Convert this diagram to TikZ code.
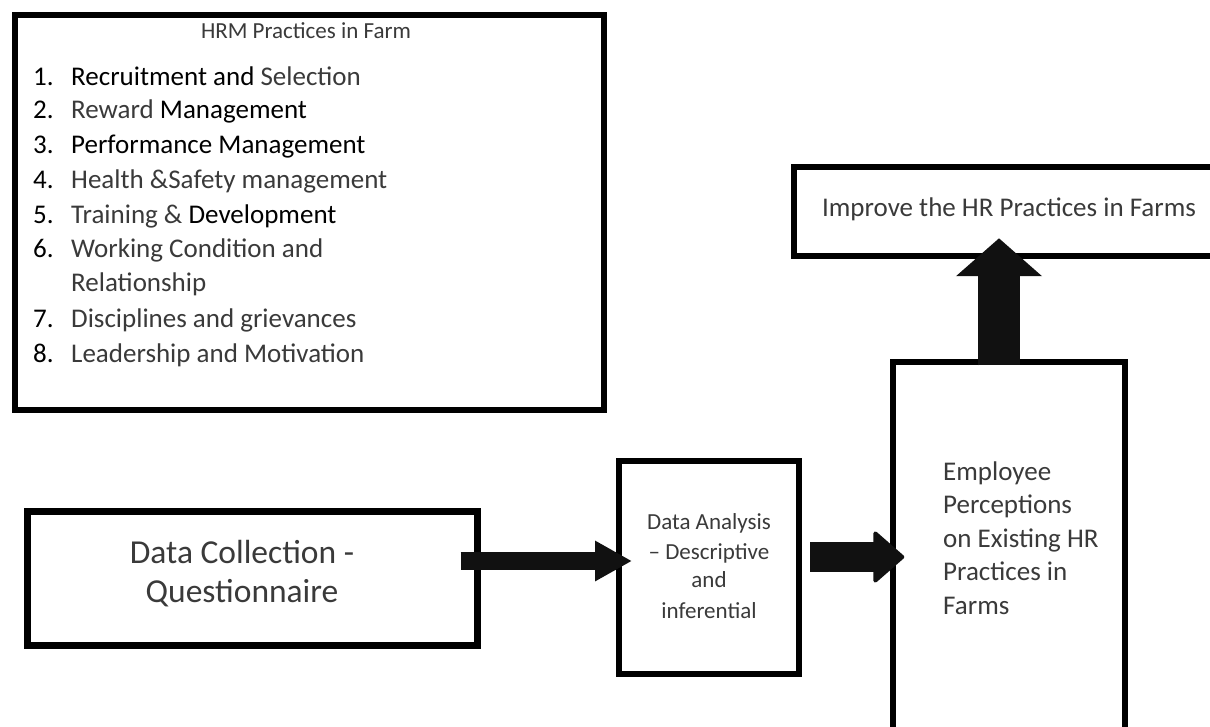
\documentclass[tikz,border=0pt]{standalone}
\usepackage{fontspec}
\setmainfont{Carlito}
\usetikzlibrary{arrows.meta,calc}
\definecolor{ink}{HTML}{111111}
\definecolor{softtext}{HTML}{3A3A3A}
\tikzset{
  box/.style={draw=black, line width=#1, rectangle, inner sep=0pt, fill=white},
  txt/.style={inner sep=0pt, text=softtext},
  listfont/.style={font=\fontsize{27}{33}\selectfont},
  arrowA/.style={draw=ink, line width=18pt, -{Triangle[length=37pt,width=38pt]}},
  arrowB/.style={draw=ink, line width=30pt, -{Triangle[round, line width=4pt, length=32pt,width=55pt]}},
  arrowC/.style={draw=ink, line width=42pt, -{Triangle[length=38pt,width=84pt]}},
}
\begin{document}
\begin{tikzpicture}[x=1pt,y=-1pt]
\useasboundingbox (0,0) rectangle (1210,727);
\fill[white] (0,0) rectangle (1210,727);

% boxes
\node[box=6.5pt, minimum width=589pt, minimum height=395pt] (hrm) at (309.5,212.5) {};
\node[box=7pt, minimum width=450pt, minimum height=134pt] (dc) at (252,578) {};
\node[box=6pt, minimum width=180pt, minimum height=213pt] (da) at (709,567.5) {};
\node[box=5.5pt, minimum width=232pt, minimum height=398pt] (emp) at (1009,561) {};
\node[box=6.5pt, minimum width=430pt, minimum height=89pt] (imp) at (1009,211.5) {};

% HRM list
\node[txt, anchor=base, font=\fontsize{23}{28}\selectfont] (title) at (306,39) {HRM Practices in Farm};
\foreach \n/\y in {1/86,2/119,3/154,4/188.5,5/223.5,6/257.5,7/327.5,8/362.5}{
  \node[txt, listfont, anchor=base west, text=black] (num\n) at (33,\y) {\n.};
}
\node[txt, listfont, anchor=base west] (it1) at (71,86) {\textcolor{black}{Recruitment and} Selection};
\node[txt, listfont, anchor=base west] (it2) at (71,119) {Reward \textcolor{black}{Management}};
\node[txt, listfont, anchor=base west, text=black] (it3) at (71,154) {Performance Management};
\node[txt, listfont, anchor=base west] (it4) at (71,188.5) {Health \&Safety management};
\node[txt, listfont, anchor=base west] (it5) at (71,223.5) {Training \& \textcolor{black}{Development}};
\node[txt, listfont, anchor=base west] (it6) at (71,257.5) {Working Condition and};
\node[txt, listfont, anchor=base west] (it6b) at (71,291.5) {Relationship};
\node[txt, listfont, anchor=base west] (it7) at (71,327.5) {Disciplines and grievances};
\node[txt, listfont, anchor=base west] (it8) at (71,362.5) {Leadership and Motivation};

% Data collection
\node[txt, anchor=base, font=\fontsize{33.5}{40}\selectfont] (dc1) at (242,563.6) {Data Collection -};
\node[txt, anchor=base, font=\fontsize{33.5}{40}\selectfont] (dc2) at (242,602.6) {Questionnaire};

% Data analysis
\node[txt, anchor=base, font=\fontsize{23}{28}\selectfont] (da1) at (709,529) {Data Analysis};
\node[txt, anchor=base, font=\fontsize{23}{28}\selectfont] (da2) at (709,559) {– Descriptive};
\node[txt, anchor=base, font=\fontsize{23}{28}\selectfont] (da3) at (709,587.5) {and};
\node[txt, anchor=base, font=\fontsize{23}{28}\selectfont] (da4) at (709,618) {inferential};

% Employee perceptions
\node[txt, listfont, anchor=base west] (em1) at (943,480) {Employee};
\node[txt, listfont, anchor=base west] (em2) at (943,513.5) {Perceptions};
\node[txt, listfont, anchor=base west] (em3) at (943,547) {on Existing HR};
\node[txt, listfont, anchor=base west] (em4) at (943,580.5) {Practices in};
\node[txt, listfont, anchor=base west] (em5) at (943,614) {Farms};

% Improve
\node[txt, anchor=base, listfont] (imptext) at (1009,217) {Improve the HR Practices in Farms};

% arrows
\path (dc.east) ++(-20,-17) coordinate (a1s);
\path (da.west) ++(16,-6.5) coordinate (a1e);
\path (da.east) ++(8,-10.5) coordinate (a2s);
\path (emp.west) ++(14,-4) coordinate (a2e);
\path (emp.north) ++(-10,6) coordinate (a3s);
\path (imp.south) ++(-10,-21) coordinate (a3e);
\draw[arrowA] (a1s) -- (a1e);
\draw[arrowB] (a2s) -- (a2e);
\draw[arrowC] (a3s) -- (a3e);
\end{tikzpicture}
\end{document}
